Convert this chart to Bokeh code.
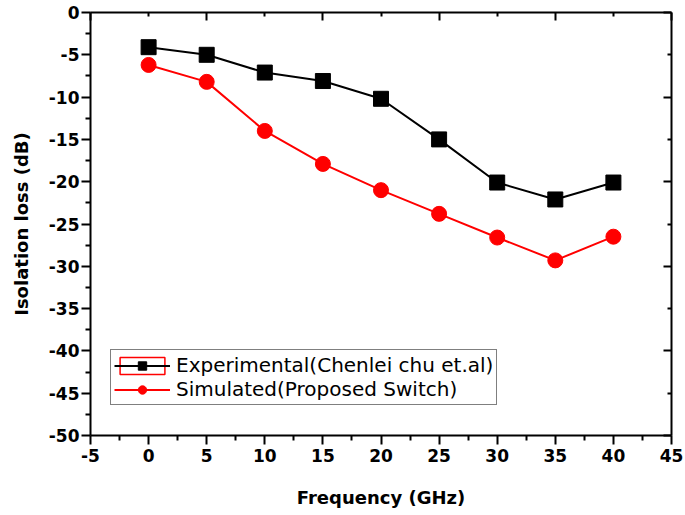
from bokeh.plotting import figure
from bokeh.models import (Range1d, LinearAxis, FixedTicker, Legend, LegendItem,
                          ColumnDataSource)
from bokeh.embed import file_html
from bokeh.resources import INLINE

freq = [0, 5, 10, 15, 20, 25, 30, 35, 40]
experimental = [-4.1, -5.0, -7.1, -8.1, -10.2, -15.0, -20.1, -22.1, -20.1]
simulated = [-6.2, -8.2, -14.0, -17.9, -21.0, -23.8, -26.6, -29.3, -26.5]

x_ticks = [-5, 0, 5, 10, 15, 20, 25, 30, 35, 40, 45]
x_minor = [-2.5, 2.5, 7.5, 12.5, 17.5, 22.5, 27.5, 32.5, 37.5, 42.5]
y_ticks = [-50, -45, -40, -35, -30, -25, -20, -15, -10, -5, 0]
y_minor = [-47.5, -42.5, -37.5, -32.5, -27.5, -22.5, -17.5, -12.5, -7.5, -2.5]
top_major = [-5, 5, 15, 25, 35, 45]
top_minor = [0, 10, 20, 30, 40]
right_major = [-50, -40, -30, -20, -10, 0]
right_minor = [-45, -35, -25, -15, -5]

label_exp = "Experimental(Chenlei chu et.al)"
label_sim = "Simulated(Proposed Switch)"

W, H = 685, 515
p = figure(width=W, height=H, output_backend="svg", toolbar_location=None,
           x_range=Range1d(-5, 45), y_range=Range1d(-50, 0),
           min_border_left=90, min_border_right=W - 671,
           min_border_top=12, min_border_bottom=H - 435,
           x_axis_type=None, y_axis_type=None)
p.grid.visible = False
p.outline_line_color = None
p.background_fill_color = "white"
p.border_fill_color = "white"

TF = "DejaVu Sans"

def style_main(ax, ticks, minor):
    ax.ticker = FixedTicker(ticks=ticks, minor_ticks=minor)
    ax.major_label_overrides = {t: str(t) for t in ticks}
    ax.axis_line_width = 2
    ax.axis_line_color = "black"
    ax.major_tick_line_width = 2
    ax.minor_tick_line_width = 2
    ax.major_tick_out = 9
    ax.major_tick_in = 0
    ax.minor_tick_out = 5
    ax.minor_tick_in = 0
    ax.major_label_text_font = TF
    ax.major_label_text_font_style = "bold"
    ax.major_label_text_font_size = "17px"
    ax.major_label_text_color = "black"
    ax.axis_label_text_font = TF
    ax.axis_label_text_font_style = "bold"
    ax.axis_label_text_font_size = "18px"
    ax.axis_label_text_color = "black"

xb = LinearAxis(axis_label="Frequency (GHz)")
style_main(xb, x_ticks, x_minor)
xb.major_label_standoff = 4
xb.axis_label_standoff = 22
p.add_layout(xb, "below")

yl = LinearAxis(axis_label="Isolation loss (dB)")
style_main(yl, y_ticks, y_minor)
yl.major_label_standoff = 2
yl.axis_label_standoff = 14
p.add_layout(yl, "left")

def style_side(ax, ticks, minor):
    ax.ticker = FixedTicker(ticks=ticks, minor_ticks=minor)
    ax.major_label_overrides = {t: "" for t in ticks}
    ax.axis_line_width = 2
    ax.axis_line_color = "black"
    ax.major_tick_line_width = 2
    ax.minor_tick_line_width = 2
    ax.major_tick_out = 0
    ax.major_tick_in = 8
    ax.minor_tick_out = 0
    ax.minor_tick_in = 4
    ax.major_label_text_font_size = "1px"
    ax.major_label_standoff = 0

xt = LinearAxis()
style_side(xt, top_major, top_minor)
p.add_layout(xt, "above")
yr = LinearAxis()
style_side(yr, right_major, right_minor)
p.add_layout(yr, "right")

src = ColumnDataSource(dict(x=freq, e=experimental, s=simulated))
box_src = ColumnDataSource(dict(x=freq[:1], y=experimental[:1], w=[0], h=[0]))

box = p.rect(x="x", y="y", width="w", height="h", source=box_src,
             fill_alpha=0, line_color="red", line_width=1.5)
l1 = p.line("x", "e", source=src, line_color="black", line_width=2)
m1 = p.scatter("x", "e", source=src, marker="square", size=15,
               fill_color="black", line_color="black")
l2 = p.line("x", "s", source=src, line_color="red", line_width=2)
m2 = p.scatter("x", "s", source=src, marker="circle", size=15,
               fill_color="red", line_color="red")

legend = Legend(items=[
    LegendItem(label=label_exp, renderers=[box, l1, m1]),
    LegendItem(label=label_sim, renderers=[l2, m2]),
], location=(20, 30))
legend.glyph_width = 56
legend.glyph_height = 21
legend.label_height = 20
legend.label_standoff = 6
legend.spacing = 0
legend.padding = 3
legend.margin = 0
legend.border_line_color = "black"
legend.border_line_width = 1.5
legend.background_fill_alpha = 1
legend.label_text_font = TF
legend.label_text_font_size = "20px"
legend.label_text_color = "black"
p.add_layout(legend, "center")

open("out.html", "w").write(file_html(p, INLINE))
